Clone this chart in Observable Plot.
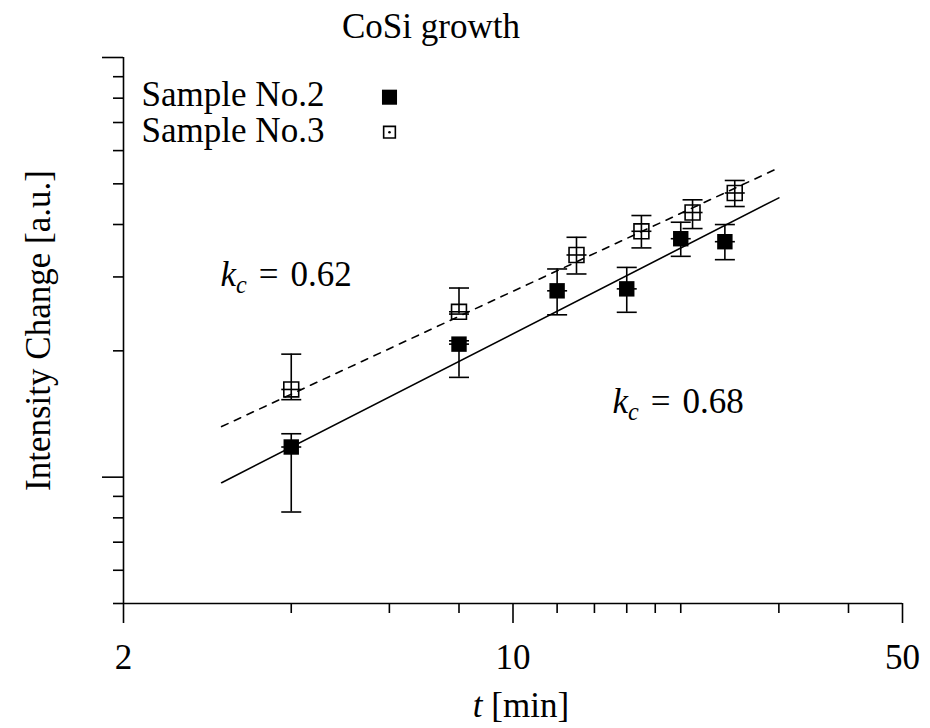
<!DOCTYPE html>
<html><head><meta charset="utf-8">
<script src="https://cdn.jsdelivr.net/npm/d3@7"></script>
<script src="https://cdn.jsdelivr.net/npm/@observablehq/plot@0.6"></script>
<style>body{margin:0;background:#fff}</style>
</head><body><div id="chart"></div>
<script>
// Sample No.2 (filled squares)
const times2 = [4, 8, 12, 16, 20, 24];
const intensity2 = [1.18, 2.075, 2.78, 2.81, 3.70, 3.64];
const low2 = [0.826, 1.729, 2.437, 2.471, 3.359, 3.298];
const high2 = [1.269, 2.113, 3.134, 3.161, 4.05, 3.999];
// Sample No.3 (open squares)
const times3 = [4, 8, 13, 17, 21, 25];
const intensity3 = [1.618, 2.478, 3.384, 3.854, 4.272, 4.755];
const low3 = [1.530, 2.447, 3.049, 3.518, 3.912, 4.415];
const high3 = [1.964, 2.823, 3.729, 4.202, 4.580, 5.093];
// power-law fit lines (end points)
const fitTimes = [3, 30];
const fit2 = [0.97, 4.63];
const fit3 = [1.32, 5.46];
// ticks
const xMajorTicks = [2, 10, 50];
const xMinorTicks = [4, 6, 8, 12, 14, 16, 18, 20, 30, 40];
const yMajorTicks = [1, 10];
const yMinorTicks = [0.5, 0.6, 0.7, 0.8, 0.9, 2, 3, 4, 5, 6, 7, 8, 9];
// texts
const seriesNames = ["Sample No.2", "Sample No.3"];
const slopeLabels = ["kc = 0.62", "kc = 0.68"];
const titleText = "CoSi growth";
const xLabel = "t [min]";
const yLabel = "Intensity Change [a.u.]";

// pick an installed serif font
function fontAvailable(name) {
  const c = document.createElement("canvas").getContext("2d");
  const test = "Sample No.2 mmmWWWiiilll 0123456789";
  for (const base of ["monospace", "sans-serif"]) {
    c.font = `40px ${base}`; const w0 = c.measureText(test).width;
    c.font = `40px "${name}", ${base}`; const w1 = c.measureText(test).width;
    if (Math.abs(w0 - w1) > 0.5) return true;
  }
  return false;
}
const candidates = ["Liberation Serif", "Times New Roman", "Tinos", "Noto Serif", "DejaVu Serif", "Nimbus Roman", "FreeSerif"];
const FONT = candidates.find(fontAvailable) || "serif";
const FONTCSS = FONT === "serif" ? "serif" : `"${FONT}", serif`;
// scale so that "Sample No.2" is ~183 px wide, as in the reference
const FS = (() => {
  const c = document.createElement("canvas").getContext("2d");
  c.font = `35px ${FONTCSS}`;
  const w = c.measureText(seriesNames[0]).width;
  return Math.max(26, Math.min(40, 35 * 183 / w));
})();

const s2 = times2.map((t, i) => ({t, v: intensity2[i], lo: low2[i], hi: high2[i]}));
const s3 = times3.map((t, i) => ({t, v: intensity3[i], lo: low3[i], hi: high3[i]}));
const f2 = fitTimes.map((t, i) => ({t, v: fit2[i]}));
const f3 = fitTimes.map((t, i) => ({t, v: fit3[i]}));

const hline = {draw(ctx, size) { const w = Math.sqrt(size / Math.PI); ctx.moveTo(-w, 0); ctx.lineTo(w, 0); }};
const SW = 1.6;
const capOpts = {symbol: hline, r: 10, fill: "none", stroke: "black", strokeWidth: SW};
const txt = {fontSize: FS, fill: "black"};

const plot = Plot.plot({
  width: 930, height: 728,
  marginLeft: 123, marginRight: 28, marginTop: 57, marginBottom: 125,
  style: {background: "white", color: "black", overflow: "visible"},
  x: {type: "log", domain: [2, 50]},
  y: {type: "log", domain: [0.5, 10]},
  marks: [
    Plot.axisX({ticks: xMinorTicks, tickSize: 10, tickFormat: () => "", label: null, strokeWidth: SW}),
    Plot.axisX({ticks: xMajorTicks, tickSize: 20, tickPadding: 21, tickFormat: d => String(d), label: null, strokeWidth: SW, fontSize: FS}),
    Plot.axisY({ticks: yMinorTicks, tickSize: 10, tickFormat: () => "", label: null, strokeWidth: SW}),
    Plot.axisY({ticks: yMajorTicks, tickSize: 21, tickFormat: () => "", label: null, strokeWidth: SW}),
    Plot.ruleY([0.5], {strokeWidth: SW}),
    Plot.ruleX([2], {strokeWidth: SW}),
    // fit lines
    Plot.line(f2, {x: "t", y: "v", stroke: "black", strokeWidth: SW}),
    Plot.line(f3, {x: "t", y: "v", stroke: "black", strokeWidth: SW, strokeDasharray: "7,7"}),
    // error bars
    Plot.ruleX(s2, {x: "t", y1: "lo", y2: "hi", strokeWidth: SW}),
    Plot.ruleX(s3, {x: "t", y1: "lo", y2: "hi", strokeWidth: SW}),
    Plot.dot(s2, {x: "t", y: "lo", ...capOpts}),
    Plot.dot(s2, {x: "t", y: "hi", ...capOpts}),
    Plot.dot(s2, {x: "t", y: "v", ...capOpts}),
    Plot.dot(s3, {x: "t", y: "lo", ...capOpts}),
    Plot.dot(s3, {x: "t", y: "hi", ...capOpts}),
    Plot.dot(s3, {x: "t", y: "v", ...capOpts}),
    // markers
    Plot.dot(s2, {x: "t", y: "v", symbol: "square", r: 8.7, fill: "black", stroke: "none"}),
    Plot.dot(s3, {x: "t", y: "v", symbol: "square", r: 8.4, fill: "none", stroke: "black", strokeWidth: SW}),
    // legend
    Plot.text([seriesNames[0]], {text: d => d, ...txt, frameAnchor: "top-left", dx: 18, dy: 48, textAnchor: "start", lineAnchor: "bottom"}),
    Plot.text([seriesNames[1]], {text: d => d, ...txt, frameAnchor: "top-left", dx: 18, dy: 84.5, textAnchor: "start", lineAnchor: "bottom"}),
    Plot.dot([0], {frameAnchor: "top-left", dx: 266, dy: 39.7, symbol: "square", r: 8.5, fill: "black", stroke: "none"}),
    Plot.dot([0], {frameAnchor: "top-left", dx: 266, dy: 74.7, symbol: "square", r: 6.6, fill: "none", stroke: "black", strokeWidth: SW}),
    Plot.dot([0], {frameAnchor: "top-left", dx: 266, dy: 74.7, r: 1.3, fill: "black", stroke: "none"}),
    // slope labels
    Plot.text([slopeLabels[0]], {text: d => d, ...txt, frameAnchor: "top-left", dx: 97, dy: 228, textAnchor: "start", lineAnchor: "bottom"}),
    Plot.text([slopeLabels[1]], {text: d => d, ...txt, frameAnchor: "top-left", dx: 489, dy: 355, textAnchor: "start", lineAnchor: "bottom"}),
    // title and axis labels
    Plot.text([titleText], {text: d => d, ...txt, frameAnchor: "top", dx: -82, dy: -20, textAnchor: "middle", lineAnchor: "bottom"}),
    Plot.text([xLabel], {text: d => d, ...txt, frameAnchor: "bottom", dx: 8, dy: 113, textAnchor: "middle", lineAnchor: "bottom"}),
    Plot.text([yLabel], {text: d => d, ...txt, frameAnchor: "left", dx: -85, dy: 0, rotate: -90, textAnchor: "middle", lineAnchor: "middle"})
  ]
});
plot.setAttribute("font-family", FONTCSS);
plot.style.fontFamily = FONTCSS;
document.getElementById("chart").appendChild(plot);

// rich text: italic variables and subscripts
d3.select(plot).selectAll("text").each(function() {
  const el = d3.select(this);
  el.attr("font-family", FONTCSS).style("font-family", FONTCSS);
  const s = this.textContent;
  if (slopeLabels.includes(s)) {
    const value = s.split("=")[1].trim();
    el.text(null);
    el.append("tspan").attr("font-style", "italic").text("k");
    el.append("tspan").attr("font-style", "italic").attr("font-size", (FS * 0.69).toFixed(1) + "px").attr("dy", "7").text("c");
    el.append("tspan").attr("dy", "-7").attr("dx", "12").text("=");
    el.append("tspan").attr("dx", "12").text(value);
  } else if (s === xLabel) {
    el.text(null);
    el.append("tspan").attr("font-style", "italic").text("t");
    el.append("tspan").text(" [min]");
  }
});
</script>
</body></html>
